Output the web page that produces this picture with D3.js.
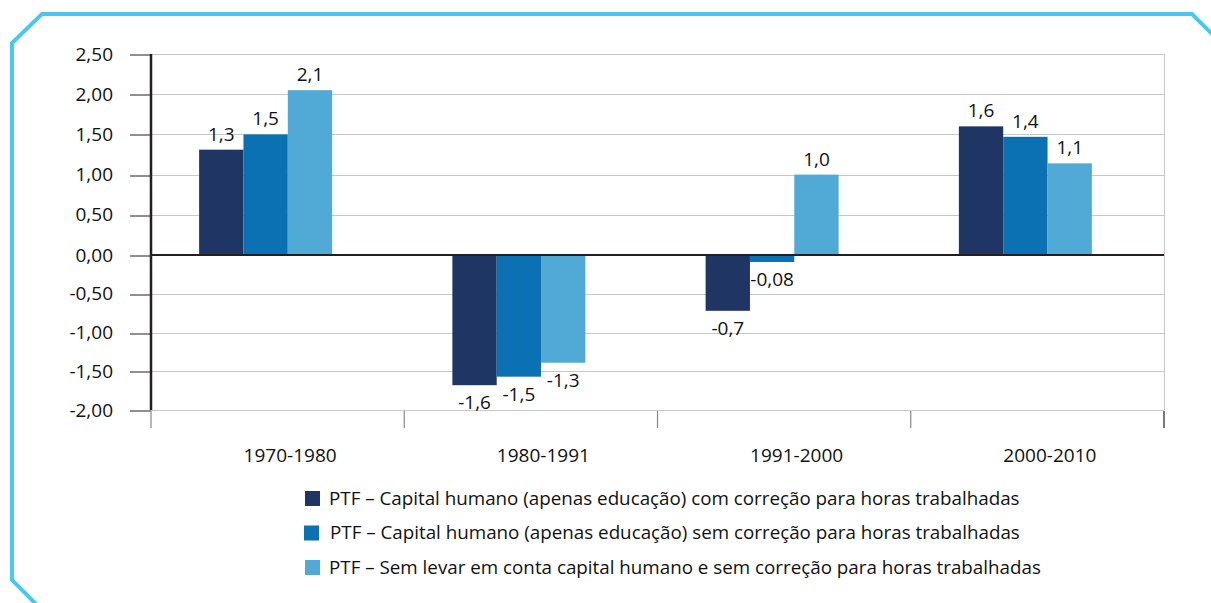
<!DOCTYPE html>
<html>
<head>
<meta charset="utf-8">
<script src="https://cdn.jsdelivr.net/npm/d3@7"></script>
<style>
  body { margin: 0; background: #fff; }
  svg text { font-family: "Open Sans", sans-serif; fill: #111; }
</style>
</head>
<body>
<div class="container"></div>
<script>
// data
const periods = ["1970-1980", "1980-1991", "1991-2000", "2000-2010"];
const seriesNames = [
  "PTF – Capital humano (apenas educação) com correção para horas trabalhadas",
  "PTF – Capital humano (apenas educação) sem correção para horas trabalhadas",
  "PTF – Sem levar em conta capital humano e sem correção para horas trabalhadas"
];
const comCorrecao = [1.31, -1.68, -0.72, 1.60];
const semCorrecao = [1.50, -1.57, -0.09, 1.47];
const semCapital = [2.05, -1.39, 1.00, 1.14];
const comCorrecaoLabels = ["1,3", "-1,6", "-0,7", "1,6"];
const semCorrecaoLabels = ["1,5", "-1,5", "-0,08", "1,4"];
const semCapitalLabels = ["2,1", "-1,3", "1,0", "1,1"];
const yTicks = [2.5, 2, 1.5, 1, 0.5, 0, -0.5, -1, -1.5, -2];

const colors = ["#1f3563", "#0b71b3", "#51aad6"];
const seriesVals = [comCorrecao, semCorrecao, semCapital];
const seriesLabels = [comCorrecaoLabels, semCorrecaoLabels, semCapitalLabels];

const W = 1211, H = 603;
const svg = d3.select(".container").append("svg").attr("width", W).attr("height", H);

// frame with cut corners
svg.append("path")
  .attr("d", "M38,606 L12,580 L12,43 L42,14 L1192,14 L1216,38")
  .attr("fill", "none").attr("stroke", "#46c8f3").attr("stroke-width", 4);

const plotL = 151, plotR = 1164, plotT = 54, plotB = 410;

let x0 = d3.scaleBand().domain(periods).range([plotL, plotR]);
// the source chart has slightly different spacing above and below zero
let y = d3.scaleLinear().domain([-2, 0, 2.5]).range([plotB, 255, plotT]);
let x1 = d3.scaleBand().domain([0, 1, 2]).range([0, 133]);
const groupLeft = p => x0(p) + x0.bandwidth() / 2 - 12 - 66.5;

// gridlines
svg.append("g").selectAll("line").data(yTicks).enter().append("line")
  .attr("x1", plotL).attr("x2", plotR)
  .attr("y1", d => Math.round(y(d)) + 0.5).attr("y2", d => Math.round(y(d)) + 0.5)
  .attr("stroke", "#c8c8c8").attr("stroke-width", 1);
svg.append("line").attr("x1", plotR + 0.5).attr("x2", plotR + 0.5).attr("y1", plotT).attr("y2", plotB)
  .attr("stroke", "#c8c8c8");

// y axis
const yAxis = d3.axisLeft(y).tickValues(yTicks).tickSize(21).tickPadding(17)
  .tickFormat(d => d3.format(".2f")(d).replace(".", ",").replace("−", "-"));
const gy = svg.append("g").attr("transform", "translate(" + plotL + ",0)").call(yAxis);
gy.select(".domain").attr("stroke", "#231f20").attr("stroke-width", 2.5).attr("d", "M0," + plotT + "V" + plotB);
gy.selectAll(".tick line").attr("stroke", "#231f20")
  .attr("transform", d => "translate(0," + (Math.round(y(d)) + 0.5 - y(d)) + ")");
gy.selectAll(".tick text").style("font-size", "19px").attr("fill", "#111");

// category ticks and labels
const bounds = periods.map(p => x0(p)).concat([plotR]);
svg.append("g").selectAll("line").data(bounds).enter().append("line")
  .attr("x1", d => d).attr("x2", d => d).attr("y1", plotB + 1).attr("y2", plotB + 18)
  .attr("stroke", (d, i) => i === bounds.length - 1 ? "#231f20" : "#888").attr("stroke-width", 1.2);
svg.append("g").selectAll("text").data(periods).enter().append("text")
  .attr("x", d => x0(d) + x0.bandwidth() / 2 + 12.5).attr("y", 462)
  .attr("text-anchor", "middle").style("font-size", "19px").text(d => d);

// bars
seriesVals.forEach((vals, s) => {
  const g = svg.append("g");
  g.selectAll("rect").data(periods).enter().append("rect")
    .attr("x", (p, i) => groupLeft(p) + x1(s))
    .attr("width", x1.bandwidth())
    .attr("y", (p, i) => y(Math.max(0, vals[i])))
    .attr("height", (p, i) => Math.abs(y(vals[i]) - y(0)))
    .attr("fill", colors[s]);
  g.selectAll("text").data(periods).enter().append("text")
    .attr("x", (p, i) => groupLeft(p) + x1(s) + x1.bandwidth() / 2)
    .attr("y", (p, i) => vals[i] >= 0 ? y(vals[i]) - 9 : y(vals[i]) + 24)
    .attr("text-anchor", "middle").style("font-size", "19px")
    .text((p, i) => seriesLabels[s][i]);
});

// zero line
svg.append("line").attr("x1", plotL).attr("x2", plotR).attr("y1", y(0)).attr("y2", y(0))
  .attr("stroke", "#231f20").attr("stroke-width", 2);

// legend
const legend = svg.selectAll(".legend").data(seriesNames).enter().append("g")
  .attr("class", "legend")
  .attr("transform", (d, i) => "translate(" + (i === 1 ? 304 : 305) + "," + (491 + i * 34.5) + ")");
legend.append("rect").attr("width", 15).attr("height", 15).attr("fill", (d, i) => colors[i]);
legend.append("text").attr("x", (d, i) => i === 1 ? 26 : 24).attr("y", 13.5)
  .style("font-size", "18.8px").text(d => d);
</script>
</body>
</html>
